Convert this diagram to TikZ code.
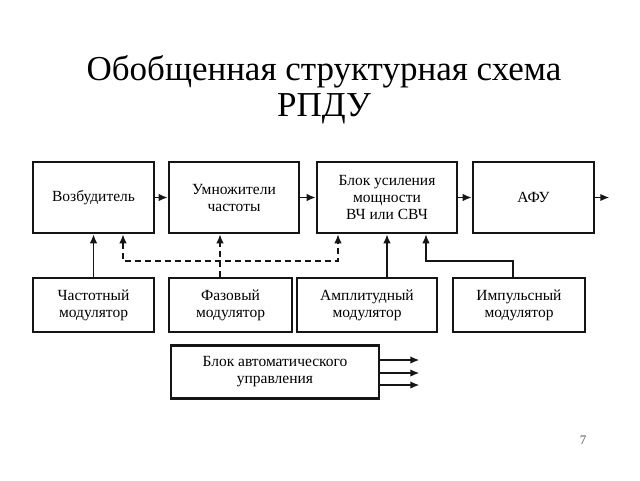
\documentclass[tikz,border=0pt]{standalone}
\usepackage{fontspec}
\setmainfont{Liberation Serif}
\usepackage{xcolor}
\usepackage{tikz}
\usetikzlibrary{arrows.meta, positioning, calc}
\definecolor{rpline}{HTML}{151515}
\definecolor{rpgray}{HTML}{555555}

\begin{document}
\begin{tikzpicture}[
    x=1pt, y=-1pt,
    blk/.style={rectangle, draw=rpline, line width=2.6pt, minimum width=#1, minimum height=71pt, align=center, font=\fontsize{15.5}{17}\selectfont, inner sep=2pt},
    mod/.style={blk=#1, minimum height=54pt},
    arr/.style={draw=rpline, line width=1.5pt, -{Latex[length=9pt,width=7.5pt]}},
    dsh/.style={arr, dash pattern=on 6pt off 4pt},
]
\useasboundingbox (0,0) rectangle (640,480);

% title
\node[font=\fontsize{35}{36}\selectfont, align=center] (title) at (324,90) {Обобщенная структурная схема\\РПДУ};

% upper chain
\node[blk=121pt] (vozb) at (93.5,197.5) {Возбудитель};
\node[blk=130pt] (umn) at (234,197.5) {Умножители\\частоты};
\node[blk=140pt] (usil) at (387,197.5) {Блок усиления\\мощности\\ВЧ или СВЧ};
\node[blk=121pt] (afu) at (533.5,197.5) {АФУ};

% modulators
\node[mod=121pt] (chast) at (93.5,305) {Частотный\\модулятор};
\node[mod=123pt] (faz) at (230.5,305) {Фазовый\\модулятор};
\node[mod=140pt] (ampl) at (367,305) {Амплитудный\\модулятор};
\node[mod=132pt] (imp) at (519,305) {Импульсный\\модулятор};

\node[blk=208pt, minimum height=53pt] (auto) at (275,372) {Блок автоматического\\управления};

\node[font=\fontsize{13}{14}\selectfont, color=rpgray] (page) at (583,440) {7};

% signal path
\draw[arr] (vozb) -- (umn);
\draw[arr] (umn) -- (usil);
\draw[arr] (usil) -- (afu);
\draw[arr] (afu.east) -- ++(14,0);

% modulation inputs
\coordinate (fx) at (220,0);
\coordinate (dl) at (123,261);
\coordinate (dr) at (338,261);
\coordinate (ik) at (513,261);
\coordinate (iu) at (426,261);
\draw[arr] (chast) -- (vozb);
\draw[dsh] (faz.north -| fx) -- (umn.south -| fx);
\draw[dsh, {Latex[length=9pt,width=7.5pt]}-{Latex[length=9pt,width=7.5pt]}] (vozb.south -| dl) -- (dl) -- (dr) -- (usil.south -| dr);
\draw[arr] (ampl.north -| usil.south) -- (usil.south);
\draw[arr] (imp.north -| ik) -- (ik) -- (iu) -- (usil.south -| iu);

% control outputs
\foreach \dy in {12,-1,-13}
  \draw[arr] ([yshift=\dy pt]auto.east) -- ++(39,0);
\end{tikzpicture}
\end{document}
